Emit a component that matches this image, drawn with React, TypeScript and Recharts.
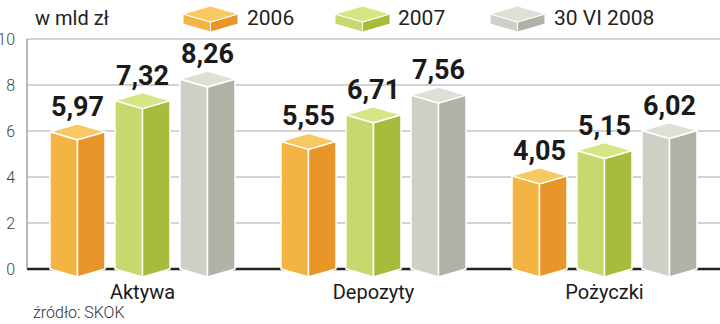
import { BarChart, Bar, XAxis, YAxis, CartesianGrid, LabelList, Legend } from 'recharts';

const categories = ['Aktywa', 'Depozyty', 'Pożyczki'];
const values2006 = [5.97, 5.55, 4.05];
const values2007 = [7.32, 6.71, 5.15];
const values2008 = [8.26, 7.56, 6.02];
const seriesNames = ['2006', '2007', '30 VI 2008'];
const yTicks = [0, 2, 4, 6, 8, 10];

const data = categories.map((name, i) => ({
  name,
  s2006: values2006[i],
  s2007: values2007[i],
  s2008: values2008[i],
}));

// left face, right face, top face
const PALETTE = [
  ['#F4B444', '#E8962A', '#F8C862'],
  ['#C6D96E', '#A8BB3C', '#D8E585'],
  ['#CFD0C5', '#B0B2A5', '#DEDFD6'],
];

const OFF = 8;

const boxShape = (colors: string[]) => (props: any) => {
  const { x, y, width, height } = props;
  if (width == null || height == null) return <g />;
  const cx = x + width / 2;
  const bottom = y + height;
  return (
    <g stroke="#fff" strokeWidth={1.5} strokeLinejoin="round">
      <polygon points={`${x},${y} ${cx},${y + OFF} ${cx},${bottom + OFF} ${x},${bottom}`} fill={colors[0]} />
      <polygon points={`${cx},${y + OFF} ${x + width},${y} ${x + width},${bottom} ${cx},${bottom + OFF}`} fill={colors[1]} />
      <polygon points={`${x},${y} ${cx},${y - OFF} ${x + width},${y} ${cx},${y + OFF}`} fill={colors[2]} />
    </g>
  );
};

const LegendSwatch = ({ x, colors }: { x: number; colors: string[] }) => {
  const w = 55;
  const cx = x + w / 2;
  const top = 14;
  const h = 10;
  return (
    <g stroke="#fff" strokeWidth={1} strokeLinejoin="round">
      <polygon points={`${x},${top} ${cx},${top + OFF} ${cx},${top + OFF + h} ${x},${top + h}`} fill={colors[0]} />
      <polygon points={`${cx},${top + OFF} ${x + w},${top} ${x + w},${top + h} ${cx},${top + OFF + h}`} fill={colors[1]} />
      <polygon points={`${x},${top} ${cx},${top - OFF} ${x + w},${top} ${cx},${top + OFF}`} fill={colors[2]} />
    </g>
  );
};

const LegendContent = () => {
  const swatchX = [183, 335, 490];
  const textX = [247, 398, 554];
  return (
    <svg width={720} height={38} style={{ display: 'block' }}>
      <text x={35} y={25} fontSize={20} fill="#222" fontFamily="Roboto, sans-serif">w mld zł</text>
      {seriesNames.map((n, i) => (
        <g key={n}>
          <LegendSwatch x={swatchX[i]} colors={PALETTE[i]} />
          <text x={textX[i]} y={25} fontSize={21} fill="#222" fontFamily="Roboto, sans-serif">{n}</text>
        </g>
      ))}
    </svg>
  );
};

const gridLine = (p: any) => {
  const isBase = p.y1 > 262;
  return (
    <line
      key={p.key ?? `${p.y1}`}
      x1={p.x1}
      x2={p.x2}
      y1={p.y1}
      y2={p.y2}
      stroke={isBase ? '#222' : '#A8A8A8'}
      strokeWidth={isBase ? 2.5 : 1.2}
    />
  );
};

const fmt = (v: any) => Number(v).toFixed(2).replace('.', ',');

export default function App() {
  return (
    <div style={{ position: 'relative', width: 720, height: 324, background: '#fff' }}>
      <style>{`body{margin:0}`}</style>
      <BarChart
        width={720}
        height={324}
        data={data}
        margin={{ top: 1, right: 0, bottom: 25, left: 0 }}
        barSize={55}
        barGap={10}
        barCategoryGap={23}
      >
        <CartesianGrid vertical={false} horizontal={gridLine} />
        <XAxis
          dataKey="name"
          height={30}
          axisLine={false}
          tickLine={false}
          tick={{ fill: '#1a1a1a', fontSize: 20, fontFamily: 'Roboto, sans-serif' }}
          tickMargin={10}
        />
        <YAxis
          domain={[0, 10]}
          ticks={yTicks}
          width={27}
          axisLine={{ stroke: '#8a8a8a', strokeWidth: 1.2 }}
          tickLine={false}
          tickMargin={6}
          tick={{ fill: '#444', fontSize: 16, fontFamily: 'Roboto, sans-serif', fontWeight: 300 }}
          interval={0}
        />
        <Legend
          verticalAlign="top"
          align="left"
          content={LegendContent}
          wrapperStyle={{ top: 0, left: 0, width: 720, height: 38 }}
        />
        {['s2006', 's2007', 's2008'].map((k, i) => (
          <Bar key={k} dataKey={k} name={seriesNames[i]} fill={PALETTE[i][0]} shape={boxShape(PALETTE[i])} isAnimationActive={false}>
            <LabelList
              dataKey={k}
              position="top"
              offset={16}
              formatter={fmt}
              style={{ fill: '#1a1a1a', fontSize: 27, fontWeight: 700, fontFamily: 'Roboto, sans-serif' }}
            />
          </Bar>
        ))}
      </BarChart>
      <div
        style={{
          position: 'absolute',
          left: 33,
          top: 303,
          fontSize: 16,
          color: '#333',
          fontFamily: 'Roboto, sans-serif',
          fontWeight: 300,
        }}
      >
        źródło: SKOK
      </div>
    </div>
  );
}
